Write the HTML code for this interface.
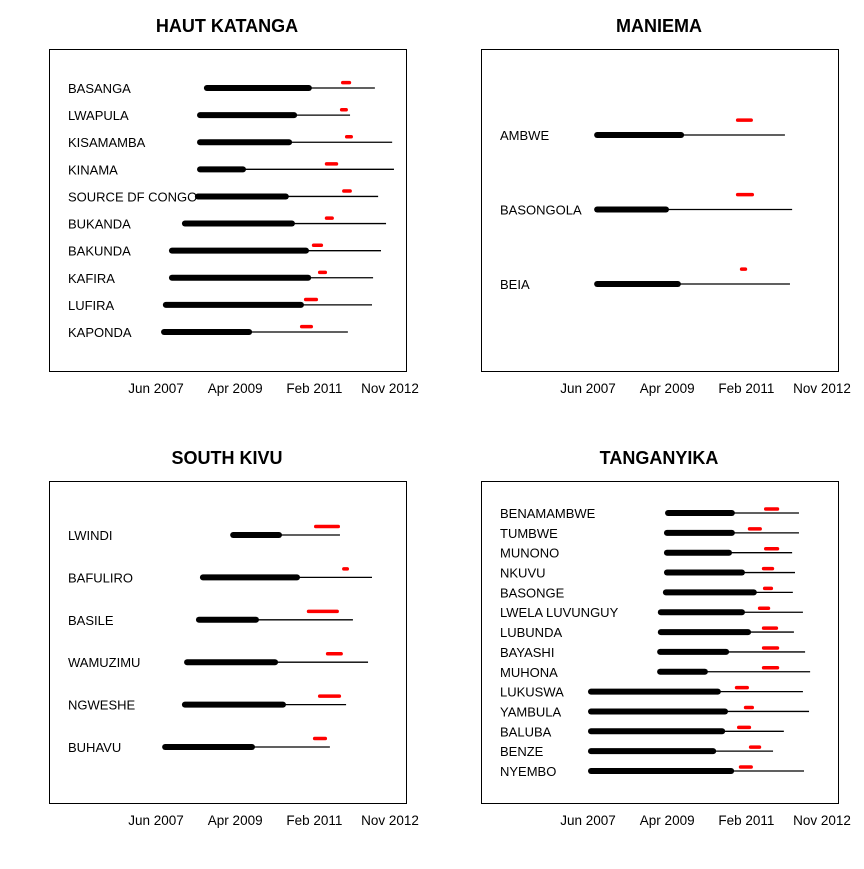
<!DOCTYPE html>
<html><head><meta charset="utf-8"><style>
body{margin:0;background:#fff;}
svg text{font-family:"Liberation Sans",Arial,sans-serif;}
</style></head><body>
<svg id="c" width="864" height="864" xmlns="http://www.w3.org/2000/svg"></svg>
<script>
// months since Jun 2007
const tickLabels=["Jun 2007","Apr 2009","Feb 2011","Nov 2012"];
const tickMonths=[0,22,44,65];
const hkNames=["BASANGA","LWAPULA","KISAMAMBA","KINAMA","SOURCE DF CONGO","BUKANDA","BAKUNDA","KAFIRA","LUFIRA","KAPONDA"];
const hkStart=[13.3,11.4,11.4,11.4,10.8,7.2,3.6,3.6,1.9,1.4];
const hkMid=[43.3,39.2,37.8,25,36.9,38.6,42.5,43.1,41.1,26.7];
const hkEnd=[60.8,53.9,65.6,66.1,61.7,63.9,62.5,60.3,60,53.3];
const hkRed1=[51.4,51.1,52.5,46.9,51.7,46.9,43.3,45,41.1,40];
const hkRed2=[54.2,53.3,54.7,50.6,54.4,49.4,46.4,47.5,45,43.6];
const maNames=["AMBWE","BASONGOLA","BEIA"];
const maStart=[1.7,1.7,1.7];
const maMid=[26.7,22.5,25.8];
const maEnd=[54.7,56.7,56.1];
const maRed1=[41.1,41.1,42.2];
const maRed2=[45.8,46.1,44.2];
const skNames=["LWINDI","BAFULIRO","BASILE","WAMUZIMU","NGWESHE","BUHAVU"];
const skStart=[20.6,12.2,11.1,7.8,7.2,1.7];
const skMid=[35,40,28.6,33.9,36.1,27.5];
const skEnd=[51.1,60,54.7,58.9,52.8,48.3];
const skRed1=[43.9,51.7,41.9,47.2,45,43.6];
const skRed2=[51.1,53.6,50.8,51.9,51.4,47.5];
const taNames=["BENAMAMBWE","TUMBWE","MUNONO","NKUVU","BASONGE","LWELA LUVUNGUY","LUBUNDA","BAYASHI","MUHONA","LUKUSWA","YAMBULA","BALUBA","BENZE","NYEMBO"];
const taStart=[21.4,21.1,21.1,21.1,20.8,19.4,19.4,19.2,19.2,0,0,0,0,0];
const taMid=[40.8,40.8,40,43.6,46.9,43.6,45.3,39.2,33.3,36.9,38.9,38.1,35.6,40.6];
const taEnd=[58.6,58.6,56.7,57.5,56.9,59.7,57.2,60.3,61.7,59.7,61.4,54.4,51.4,60];
const taRed1=[48.9,44.4,48.9,48.3,48.6,47.2,48.3,48.3,48.3,40.8,43.3,41.4,44.7,41.9];
const taRed2=[53.1,48.3,53.1,51.7,51.4,50.6,52.8,53.1,53.1,44.7,46.1,45.3,48.1,45.8];

const svg=document.getElementById('c');
const NS="http://www.w3.org/2000/svg";
function mk(tag,attrs,parent){const e=document.createElementNS(NS,tag);for(const k in attrs)e.setAttribute(k,attrs[k]);(parent||svg).appendChild(e);return e;}

const panels=[
 {key:"haut-katanga",title:"HAUT KATANGA",x0:49,y0:49,y1:88,y2:332,names:hkNames,s:hkStart,m:hkMid,e:hkEnd,r1:hkRed1,r2:hkRed2},
 {key:"maniema",title:"MANIEMA",x0:481,y0:49,y1:135,y2:284,names:maNames,s:maStart,m:maMid,e:maEnd,r1:maRed1,r2:maRed2},
 {key:"south-kivu",title:"SOUTH KIVU",x0:49,y0:481,y1:535,y2:747,names:skNames,s:skStart,m:skMid,e:skEnd,r1:skRed1,r2:skRed2},
 {key:"tanganyika",title:"TANGANYIKA",x0:481,y0:481,y1:513,y2:771,names:taNames,s:taStart,m:taMid,e:taEnd,r1:taRed1,r2:taRed2}
];
panels.forEach(p=>{
 const g=mk('g',{});
 
 
 const xs=m=>p.x0+107+m*3.6;
 const t=mk('text',{x:p.x0+178,y:p.y0-17,'text-anchor':'middle','font-size':'18','font-weight':'bold'},g);
 t.textContent=p.title;
 
 
 const box=mk('rect',{x:p.x0+0.5,y:p.y0+0.5,width:357,height:322,fill:'none',stroke:'#000','stroke-width':1},g);
 
 
 tickLabels.forEach((lab,i)=>{
  const tt=mk('text',{x:xs(tickMonths[i]),y:p.y0+344,'text-anchor':'middle','font-size':'13.5'},g);
  tt.textContent=lab;
  
  
 });
 const n=p.names.length;
 const sp=n>1?(p.y2-p.y1)/(n-1):0;
 const off=sp*0.2;
 p.names.forEach((nm,i)=>{
  const y=p.y1+i*sp;
  const lt=mk('text',{x:p.x0+19,y:y+5,'font-size':'13'},g);
  lt.textContent=nm;
  
  
  const thin=mk('line',{x1:xs(p.s[i])+2,x2:xs(p.e[i]),y1:y,y2:y,stroke:'#000','stroke-width':1.3},g);
  
  
  const thick=mk('line',{x1:xs(p.s[i])+3,x2:xs(p.m[i])-3,y1:y,y2:y,stroke:'#000','stroke-width':6,'stroke-linecap':'round'},g);
  
  
  const red=mk('line',{x1:xs(p.r1[i])+1.7,x2:xs(p.r2[i])-1.7,y1:y-off,y2:y-off,stroke:'#ff0000','stroke-width':3.5,'stroke-linecap':'round'},g);
  
  
 });
});
</script>
</body></html>
